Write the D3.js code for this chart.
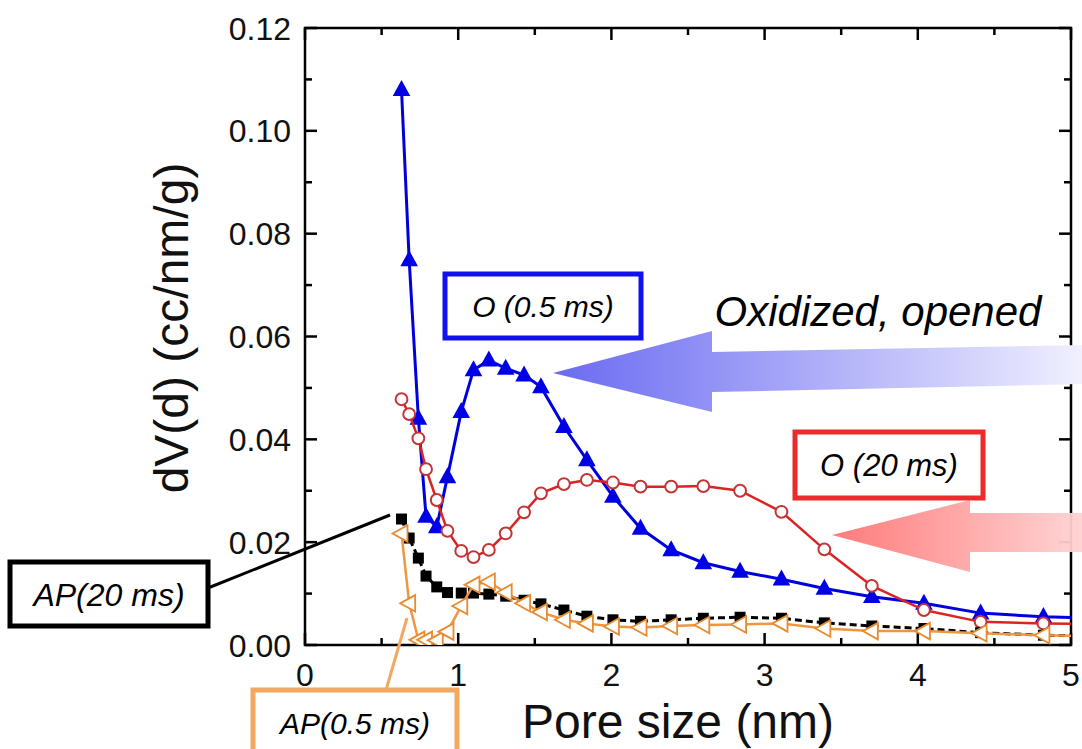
<!DOCTYPE html>
<html>
<head>
<meta charset="utf-8">
<script src="https://cdn.jsdelivr.net/npm/d3@7"></script>
<style>
  body { margin: 0; background: #fff; }
  svg { display: block; font-family: "Liberation Sans", Arial, sans-serif; }
</style>
</head>
<body>
<svg id="chart" width="1082" height="749"></svg>
<script>
// pore sizes (nm), shared by all four series; last one lies past the frame
const poreSize = [0.63, 0.68, 0.74, 0.79, 0.86, 0.93, 1.02, 1.10, 1.20, 1.31, 1.43, 1.54, 1.69, 1.84,
                  2.01, 2.19, 2.39, 2.60, 2.84, 3.11, 3.39, 3.70, 4.04, 4.41, 4.82, 5.25];

const o05 = [0.1080, 0.0749, 0.0441, 0.0250, 0.0230, 0.0327, 0.0454, 0.0535, 0.0554, 0.0538, 0.0525, 0.0502, 0.0425,
             0.0360, 0.0289, 0.0227, 0.0185, 0.0160, 0.0143, 0.0128, 0.0110, 0.0094, 0.0081, 0.0062, 0.0055, 0.0051];
const o20 = [0.0478, 0.0449, 0.0402, 0.0342, 0.0282, 0.0222, 0.0183, 0.0171, 0.0185, 0.0217, 0.0258, 0.0295, 0.0313,
             0.0321, 0.0316, 0.0308, 0.0308, 0.0309, 0.0300, 0.0259, 0.0186, 0.0115, 0.0068, 0.0045, 0.0042, 0.0040];
const ap20 = [0.0245, 0.0208, 0.0169, 0.0134, 0.0113, 0.0102, 0.0101, 0.0101, 0.0099, 0.0095, 0.0087, 0.0080, 0.0068,
              0.0056, 0.0049, 0.0046, 0.0049, 0.0052, 0.0054, 0.0052, 0.0043, 0.0037, 0.0032, 0.0024, 0.0019, 0.0017];
const ap05 = [0.0217, 0.0081, 0.0010, 0.0010, 0.0009, 0.0026, 0.0076, 0.0117, 0.0123, 0.0102, 0.0081, 0.0064, 0.0049,
              0.0042, 0.0036, 0.0034, 0.0037, 0.0039, 0.0040, 0.0042, 0.0032, 0.0027, 0.0027, 0.0023, 0.0019, 0.0017];

const xTicks = [0, 1, 2, 3, 4, 5];
const yTicks = [0, 0.02, 0.04, 0.06, 0.08, 0.10, 0.12];

const svg = d3.select("#chart");
const plotL = 305, plotR = 1071, plotT = 28, plotB = 645;

const x = d3.scaleLinear().domain([0, 5]).range([plotL, plotR]);
const y = d3.scaleLinear().domain([0, 0.12]).range([plotB, plotT]);

svg.append("rect").attr("width", 1082).attr("height", 749).attr("fill", "#fff");

const defs = svg.append("defs");
defs.append("clipPath").attr("id", "plot")
  .append("rect").attr("x", plotL).attr("y", plotT).attr("width", plotR - plotL).attr("height", plotB - plotT);

function grad(id, c0, c1, x0, x1) {
  const g = defs.append("linearGradient").attr("id", id)
    .attr("gradientUnits", "userSpaceOnUse")
    .attr("x1", x0).attr("x2", x1).attr("y1", 0).attr("y2", 0);
  g.append("stop").attr("offset", 0).attr("stop-color", c0);
  g.append("stop").attr("offset", 1).attr("stop-color", c1);
}
grad("blueGrad", "#6a6af2", "#f0f0ff", 553, 1082);
grad("redGrad", "#ff7474", "#ffd2d2", 832, 1082);

// axis frame with inward ticks
const frame = svg.append("g").attr("stroke", "#000").attr("stroke-width", 2.5).attr("fill", "none");
frame.append("rect").attr("x", plotL).attr("y", plotT).attr("width", plotR - plotL).attr("height", plotB - plotT);

const xt = d3.range(0, 5.01, 0.5), yt = d3.range(0, 0.1201, 0.01);
xt.forEach((v, i) => {
  const len = i % 2 === 0 ? 12 : 7;
  frame.append("line").attr("x1", x(v)).attr("x2", x(v)).attr("y1", plotB).attr("y2", plotB - len);
  frame.append("line").attr("x1", x(v)).attr("x2", x(v)).attr("y1", plotT).attr("y2", plotT + len);
});
yt.forEach((v, i) => {
  const len = i % 2 === 0 ? 12 : 7;
  frame.append("line").attr("x1", plotL).attr("x2", plotL + len).attr("y1", y(v)).attr("y2", y(v));
  frame.append("line").attr("x1", plotR).attr("x2", plotR - len).attr("y1", y(v)).attr("y2", y(v));
});

svg.append("g").selectAll("text").data(yTicks).join("text")
  .attr("x", plotL - 14).attr("y", d => y(d)).attr("dy", "0.36em")
  .attr("text-anchor", "end").attr("font-size", 32).attr("fill", "#111")
  .text(d3.format(".2f"));

svg.append("g").selectAll("text").data(xTicks).join("text")
  .attr("x", d => x(d)).attr("y", 686)
  .attr("text-anchor", "middle").attr("font-size", 32).attr("fill", "#111")
  .text(d => d);

svg.append("text").attr("x", 678).attr("y", 738).attr("text-anchor", "middle")
  .attr("font-size", 48).attr("fill", "#111").text("Pore size (nm)");

svg.append("text").attr("transform", "translate(188,328) rotate(-90)")
  .attr("text-anchor", "middle").attr("font-size", 48).attr("fill", "#111")
  .text("dV(d) (cc/nm/g)");

// series
const pts = vals => poreSize.map((d, i) => [d, vals[i]]);
const line = d3.line().x(d => x(d[0])).y(d => y(d[1]));
const plot = svg.append("g").attr("clip-path", "url(#plot)");

const series = [
  {vals: o05, color: "#0000dc", width: 3, dash: null},
  {vals: o20, color: "#dc2222", width: 2.5, dash: null},
  {vals: ap20, color: "#000", width: 3, dash: "7,4"},
  {vals: ap05, color: "#ee9640", width: 2.5, dash: null}
];

const upTri = s => `M0,${-s * 0.6}L${s * 0.55},${s * 0.4}L${-s * 0.55},${s * 0.4}Z`;
const leftTri = s => `M${-s * 0.6},0L${s * 0.4},${-s * 0.55}L${s * 0.4},${s * 0.55}Z`;

series.forEach((s, k) => {
  plot.append("path").datum(pts(s.vals))
    .attr("fill", "none").attr("stroke", s.color).attr("stroke-width", s.width)
    .attr("stroke-dasharray", s.dash).attr("d", line);

  const m = plot.append("g").selectAll("path")
    .data(pts(s.vals).filter(d => d[0] <= 5)).join("path")
    .attr("transform", d => `translate(${x(d[0])},${y(d[1])})`);
  if (k === 0) m.attr("d", upTri(16)).attr("fill", "#0000e6");
  if (k === 1) m.attr("d", d3.symbol(d3.symbolCircle, 110)()).attr("fill", "#fff")
                .attr("stroke", "#c43434").attr("stroke-width", 2);
  if (k === 2) m.attr("d", "M-5.5,-5.5h11v11h-11Z").attr("fill", "#000");
  if (k === 3) m.attr("d", leftTri(15)).attr("fill", "#fff")
                .attr("stroke", "#e88a2e").attr("stroke-width", 1.8);
});

// arrows
svg.append("path")
  .attr("d", "M553,373 L712,331 L712,352 L1082,345 L1082,384 L712,392 L712,412 Z")
  .attr("fill", "url(#blueGrad)");
svg.append("path")
  .attr("d", "M832,535 L970,500 L970,513 L1082,513 L1082,552 L970,552 L970,572 Z")
  .attr("fill", "url(#redGrad)").attr("opacity", 0.95);

svg.append("text").attr("x", 878).attr("y", 326).attr("text-anchor", "middle")
  .attr("font-size", 42).attr("font-style", "italic").attr("fill", "#000")
  .text("Oxidized, opened");

// labelled boxes
const boxes = [
  {x: 445, y: 274, w: 196, h: 64, color: "#1010f0", text: "O (0.5 ms)", size: 30},
  {x: 795, y: 432, w: 188, h: 66, color: "#ec2a2a", text: "O (20 ms)", size: 31},
  {x: 10, y: 562, w: 198, h: 64, color: "#000", text: "AP(20 ms)", size: 32},
  {x: 253, y: 690, w: 204, h: 66, color: "#f2a860", text: "AP(0.5 ms)", size: 30}
];

svg.append("line").attr("x1", 208).attr("y1", 588).attr("x2", 390).attr("y2", 515)
  .attr("stroke", "#000").attr("stroke-width", 3);
svg.append("line").attr("x1", 386).attr("y1", 690).attr("x2", 407).attr("y2", 618)
  .attr("stroke", "#f2a860").attr("stroke-width", 3);

boxes.forEach(b => {
  svg.append("rect").attr("x", b.x).attr("y", b.y).attr("width", b.w).attr("height", b.h)
    .attr("fill", "#fff").attr("stroke", b.color).attr("stroke-width", 5);
  svg.append("text").attr("x", b.x + b.w / 2).attr("y", b.y + b.h / 2).attr("dy", "0.36em")
    .attr("text-anchor", "middle").attr("font-size", b.size).attr("font-style", "italic")
    .attr("fill", "#000").text(b.text);
});
</script>
</body>
</html>
